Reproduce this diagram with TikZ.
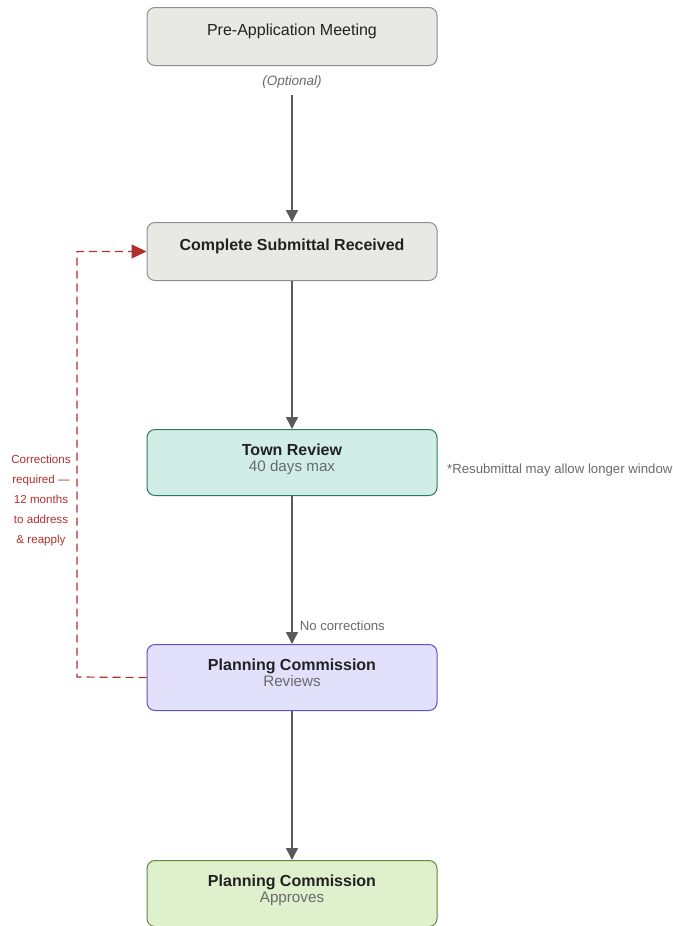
\documentclass[tikz,border=0pt]{standalone}
\usepackage{fontspec}
\setmainfont{Liberation Sans}
\usetikzlibrary{arrows.meta}
\definecolor{flowgray}{HTML}{5A5A5A}
\definecolor{subgray}{HTML}{6A6A6A}
\definecolor{titlecol}{HTML}{222222}
\definecolor{redocol}{HTML}{B0302E}
\definecolor{greyfill}{HTML}{E8E8E4}
\definecolor{greyline}{HTML}{8E8E8A}
\definecolor{revfill}{HTML}{D0EEE6}
\definecolor{revline}{HTML}{2F7A5F}
\definecolor{comfill}{HTML}{E2E0FA}
\definecolor{comline}{HTML}{5B54C8}
\definecolor{okfill}{HTML}{DFF0CD}
\definecolor{okline}{HTML}{5F8C3E}
\tikzset{
  stage/.style={draw,rounded corners=8pt,line width=1pt,minimum width=290pt,
    inner xsep=0pt,inner ysep=0pt,anchor=north,align=center,text=titlecol,
    font=\fontsize{16}{16.5}\selectfont},
  onestage/.style={stage,text height=27.5pt,text depth=30.5pt},
  twostage/.style={stage,text height=42pt,text depth=24pt},
  flow/.style={draw=flowgray,line width=1.5pt,-{Triangle[length=12pt,width=12pt]}},
  redo/.style={draw=redocol,line width=1.2pt,dash pattern=on 8pt off 5pt,
    -{Triangle[length=15pt,width=14pt]}},
  note/.style={text=subgray,font=\fontsize{13.2}{15}\selectfont}
}
\newcommand{\subline}[1]{{\color{subgray}\fontsize{15.2}{16.5}\selectfont #1}}
\begin{document}
\begin{tikzpicture}[x=1pt,y=1pt]
\useasboundingbox (0,0) rectangle (672,-926);
\node [onestage,fill=greyfill,draw=greyline,name=pre] at (292,-7){Pre-Application Meeting};
\node [onestage,fill=greyfill,draw=greyline,name=sub] at (292,-222){\textbf{Complete Submittal Received}};
\node [twostage,fill=revfill,draw=revline,name=rev] at (292,-429){\textbf{Town Review}\\\subline{40 days max}};
\node [twostage,fill=comfill,draw=comline,name=pcr] at (292,-644){\textbf{Planning Commission}\\\subline{Reviews}};
\node [twostage,fill=okfill,draw=okline,name=pca] at (292,-860){\textbf{Planning Commission}\\\subline{Approves}};
\coordinate (back) at (77,-677);
\draw[flow,shorten <=3pt] (pre) -- node[pos=0.1,fill=white,inner xsep=2pt,inner ysep=0pt,minimum height=27pt,
  text=subgray,font=\itshape\fontsize{13.5}{15}\selectfont,name=opt]{(Optional)} (sub);
\draw[flow] (sub) -- (rev);
\draw[flow] (rev) -- node[pos=0.88,right,inner xsep=7pt,note,name=nocorr]{No corrections} (pcr);
\draw[flow] (pcr) -- (pca);
\draw[redo] (pcr.west) -- (back) |- (sub.west);
\node [align=center,text=redocol,font=\fontsize{11.6}{20}\selectfont,name=corr] at (41,-500){Corrections\\required —\\12 months\\to address\\\& reapply};
\node [note,anchor=west,inner xsep=0pt,name=resub] at (447,-470){*Resubmittal may allow longer window};
\end{tikzpicture}
\end{document}
